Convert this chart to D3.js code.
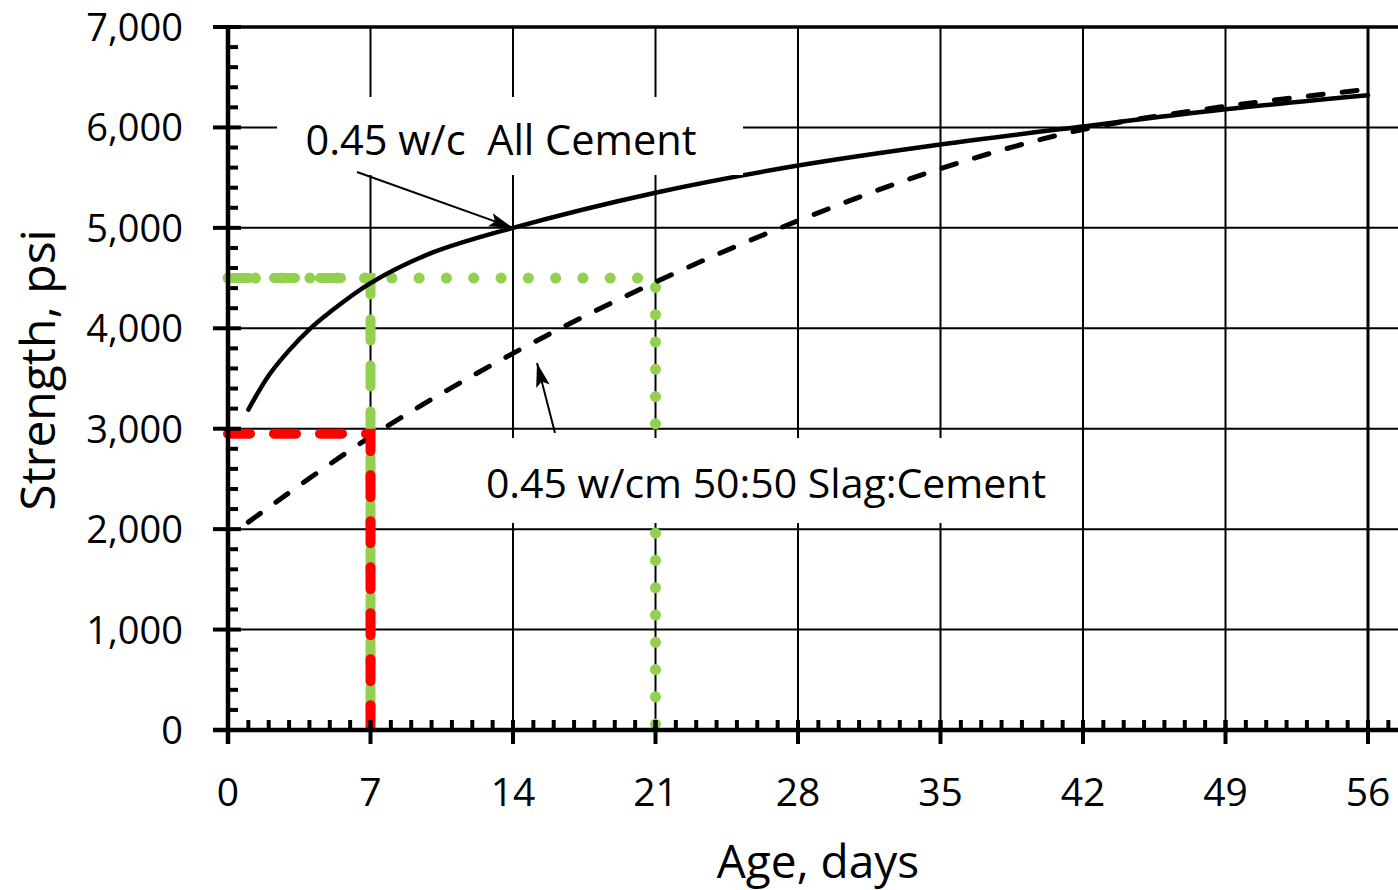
<!DOCTYPE html>
<html>
<head>
<script src="https://d3js.org/d3.v7.min.js"></script>
<style>
  html, body { margin: 0; padding: 0; background: #fff; }
  svg { display: block; }
  text { font-family: 'Open Sans', 'Noto Sans', sans-serif; fill: #000; }
</style>
</head>
<body>
<div id="chart"></div>
<script>
// ---- data ----
const ages = [1, 2, 3, 4, 5, 7, 10, 14, 21, 28, 35, 42, 49, 56];
const allCement = [3190, 3530, 3780, 3990, 4160, 4450, 4750, 5000, 5350, 5620, 5830, 6010, 6180, 6320];
const slagAges = [1, 7, 14, 21, 28, 35, 42, 49, 56];
const slagCement = [2070, 2920, 3750, 4460, 5070, 5590, 5980, 6210, 6380];

const redGuide = [[0, 2950], [7, 2950], [7, 0]];
const greenDashGuide = [[0, 4500], [7, 4500], [7, 0]];
const greenDotGuide = [[0, 4500], [21, 4500], [21, 0]];

const xTicks = [0, 7, 14, 21, 28, 35, 42, 49, 56];
const yTicks = [0, 1000, 2000, 3000, 4000, 5000, 6000, 7000];

const W = 1398, H = 890;
const x = d3.scaleLinear().domain([0, 56]).range([228, 1368]);
const y = d3.scaleLinear().domain([0, 7000]).range([730, 27]);
const xEnd = W;

const svg = d3.select("#chart").append("svg").attr("width", W).attr("height", H);

// gridlines
svg.append("g").selectAll("line").data(yTicks.filter(d => d > 0)).join("line")
  .attr("x1", 228).attr("x2", xEnd)
  .attr("y1", d => y(d)).attr("y2", d => y(d))
  .attr("stroke", "#000").attr("stroke-width", d => d === 7000 ? 3.5 : 2);
svg.append("g").selectAll("line").data(xTicks.filter(d => d > 0)).join("line")
  .attr("x1", d => x(d)).attr("x2", d => x(d))
  .attr("y1", y(7000)).attr("y2", y(0))
  .attr("stroke", "#000").attr("stroke-width", d => d === 56 ? 3 : 2);

// guide lines
const guideLine = d3.line().x(d => x(d[0])).y(d => y(d[1]));
svg.append("path").attr("d", guideLine(greenDotGuide))
  .attr("fill", "none").attr("stroke", "#92D050").attr("stroke-width", 11)
  .attr("stroke-linecap", "round").attr("stroke-dasharray", "0.1,27.2");
svg.append("path").attr("d", guideLine(greenDashGuide))
  .attr("fill", "none").attr("stroke", "#92D050").attr("stroke-width", 10)
  .attr("stroke-linecap", "round").attr("stroke-dasharray", "21,25");

// curves
const curve = d3.line().x(d => x(d[0])).y(d => y(d[1])).curve(d3.curveCatmullRom.alpha(0.5));
svg.append("path").attr("d", curve(ages.map((a, i) => [a, allCement[i]])))
  .attr("fill", "none").attr("stroke", "#000").attr("stroke-width", 4.5)
  .attr("stroke-linecap", "round");
svg.append("path").attr("d", curve(slagAges.map((a, i) => [a, slagCement[i]])))
  .attr("fill", "none").attr("stroke", "#000").attr("stroke-width", 5)
  .attr("stroke-linecap", "round").attr("stroke-dasharray", "15,19");

svg.append("path").attr("d", guideLine(redGuide))
  .attr("fill", "none").attr("stroke", "#FF0000").attr("stroke-width", 10)
  .attr("stroke-linecap", "round").attr("stroke-dasharray", "22,24");

// axes
const ax = svg.append("g");
ax.append("line").attr("x1", 213).attr("x2", xEnd).attr("y1", y(0)).attr("y2", y(0))
  .attr("stroke", "#000").attr("stroke-width", 4.5);
ax.append("line").attr("x1", 228).attr("x2", 228).attr("y1", y(7000) - 1.5).attr("y2", 744)
  .attr("stroke", "#000").attr("stroke-width", 4.5);
ax.append("line").attr("x1", 213).attr("x2", 228).attr("y1", y(7000)).attr("y2", y(7000))
  .attr("stroke", "#000").attr("stroke-width", 4);

// y ticks: major outward+inward, minor inward every 200
ax.selectAll(".ymaj").data(yTicks).join("line")
  .attr("x1", 213).attr("x2", 241).attr("y1", d => y(d)).attr("y2", d => y(d))
  .attr("stroke", "#000").attr("stroke-width", 4);
ax.selectAll(".ymin").data(d3.range(200, 7000, 200).filter(d => d % 1000 !== 0)).join("line")
  .attr("x1", 228).attr("x2", 238).attr("y1", d => y(d)).attr("y2", d => y(d))
  .attr("stroke", "#000").attr("stroke-width", 4);

// x ticks: minor every day upward, major every 7 through
ax.selectAll(".xmin").data(d3.range(1, 58).filter(d => x(d) <= xEnd)).join("line")
  .attr("x1", d => x(d)).attr("x2", d => x(d)).attr("y1", y(0)).attr("y2", y(0) - 10)
  .attr("stroke", "#000").attr("stroke-width", 4);
ax.selectAll(".xmaj").data(xTicks).join("line")
  .attr("x1", d => x(d)).attr("x2", d => x(d)).attr("y1", y(0) + 14).attr("y2", y(0) - 10)
  .attr("stroke", "#000").attr("stroke-width", 4);

// tick labels
const fmt = d3.format(",");
svg.append("g").selectAll("text").data(yTicks).join("text")
  .attr("x", 183).attr("y", d => y(d) + 14).attr("font-size", 38)
  .attr("text-anchor", "end").text(d => fmt(d));
svg.append("g").selectAll("text").data(xTicks).join("text")
  .attr("x", d => x(d)).attr("y", 806)
  .attr("text-anchor", "middle").attr("font-size", 39).text(d => d);

// axis titles
svg.append("text").attr("transform", "translate(55,370) rotate(-90)")
  .attr("text-anchor", "middle").attr("font-size", 48).text("Strength, psi");
svg.append("text").attr("x", 818).attr("y", 878)
  .attr("text-anchor", "middle").attr("font-size", 46).text("Age, days");

// annotations
const defs = svg.append("defs");
defs.append("marker").attr("id", "head").attr("markerUnits", "userSpaceOnUse")
  .attr("viewBox", "0 0 24 14").attr("refX", 24).attr("refY", 7)
  .attr("markerWidth", 24).attr("markerHeight", 14).attr("orient", "auto")
  .append("path").attr("d", "M0,0 L24,7 L0,14 L5,7 Z").attr("fill", "#000");

svg.append("rect").attr("x", 277).attr("y", 97).attr("width", 466).attr("height", 78).attr("fill", "#fff");
svg.append("text").attr("x", 501).attr("y", 155).attr("text-anchor", "middle")
  .attr("font-size", 41.5).attr("xml:space", "preserve").text("0.45 w/c  All Cement");
svg.append("line").attr("x1", 357).attr("y1", 172).attr("x2", x(14)).attr("y2", y(5000))
  .attr("stroke", "#000").attr("stroke-width", 2).attr("marker-end", "url(#head)");

svg.append("rect").attr("x", 462).attr("y", 438).attr("width", 610).attr("height", 85).attr("fill", "#fff");
svg.append("text").attr("x", 766).attr("y", 498).attr("text-anchor", "middle")
  .attr("font-size", 41).text("0.45 w/cm 50:50 Slag:Cement");
svg.append("line").attr("x1", 555).attr("y1", 433).attr("x2", 537).attr("y2", 363)
  .attr("stroke", "#000").attr("stroke-width", 2).attr("marker-end", "url(#head)");
</script>
</body>
</html>
